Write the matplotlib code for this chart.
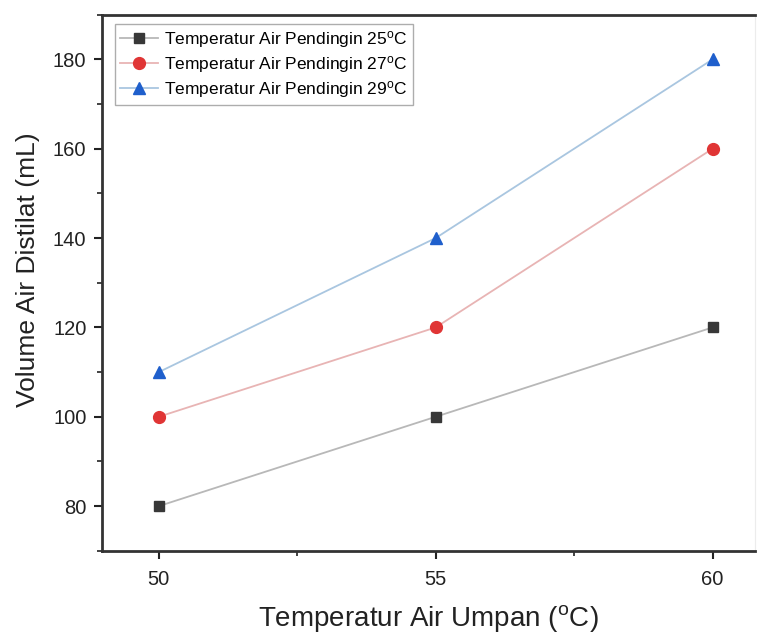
import matplotlib
matplotlib.use("Agg")
import matplotlib.pyplot as plt
from matplotlib.ticker import MultipleLocator

plt.rcParams['font.family'] = ['Liberation Sans', 'DejaVu Sans']
plt.rcParams['mathtext.fontset'] = 'custom'
plt.rcParams['mathtext.rm'] = 'Liberation Sans'
plt.rcParams['mathtext.it'] = 'Liberation Sans'

feed_temp = [50, 55, 60]
vol_25 = [80, 100, 120]
vol_27 = [100, 120, 160]
vol_29 = [110, 140, 180]
labels = [r'Temperatur Air Pendingin 25$^{\mathrm{o}}$C',
          r'Temperatur Air Pendingin 27$^{\mathrm{o}}$C',
          r'Temperatur Air Pendingin 29$^{\mathrm{o}}$C']

fig = plt.figure(figsize=(7.59, 6.39), dpi=100)
ax = fig.add_axes([0.134, 0.138, 0.861, 0.839])

ax.plot(feed_temp, vol_25, '-', color='#b8b8b8', lw=1.3, marker='s', ms=7.5,
        mfc='#383838', mec='#383838', label=labels[0])
ax.plot(feed_temp, vol_27, '-', color='#e8b4b4', lw=1.3, marker='o', ms=8.5,
        mfc='#e03535', mec='#e03535', label=labels[1])
ax.plot(feed_temp, vol_29, '-', color='#a9c6e0', lw=1.3, marker='^', ms=8.5,
        mfc='#1f5fcc', mec='#1f5fcc', label=labels[2])

ax.set_xlim(48.97, 60.77)
ax.set_ylim(70, 190)
ax.xaxis.set_major_locator(MultipleLocator(5))
ax.xaxis.set_minor_locator(MultipleLocator(2.5))
ax.yaxis.set_major_locator(MultipleLocator(20))
ax.yaxis.set_minor_locator(MultipleLocator(10))
ax.tick_params(which='major', direction='out', length=6, width=1.5, labelsize=14.5, colors='#222222')
ax.tick_params(which='minor', direction='out', length=3.5, width=1.2, colors='#222222')
ax.tick_params(axis='x', pad=8)
ax.tick_params(axis='y', pad=5)

ax.spines['left'].set_linewidth(2)
ax.spines['bottom'].set_linewidth(2)
ax.spines['top'].set_linewidth(2)
ax.spines['right'].set_linewidth(0.8)
ax.spines['right'].set_color('#ececec')
for s in ['left', 'bottom', 'top']:
    ax.spines[s].set_color('#333333')

ax.set_xlabel(r'Temperatur Air Umpan ($^{\mathrm{o}}$C)', fontsize=20, labelpad=10, color='#222222')
ax.set_ylabel('Volume Air Distilat (mL)', fontsize=19, color='#222222')
ax.yaxis.set_label_coords(-0.095, 0.524)

leg = ax.legend(loc='upper left', bbox_to_anchor=(0.02, 0.983), borderaxespad=0,
                fontsize=12.5, frameon=True, fancybox=False,
                edgecolor='#999999', borderpad=0.3, labelspacing=0.22,
                handlelength=2.2, handletextpad=0.35)
leg.get_frame().set_linewidth(1.0)

fig.savefig('out.png', dpi=100)
